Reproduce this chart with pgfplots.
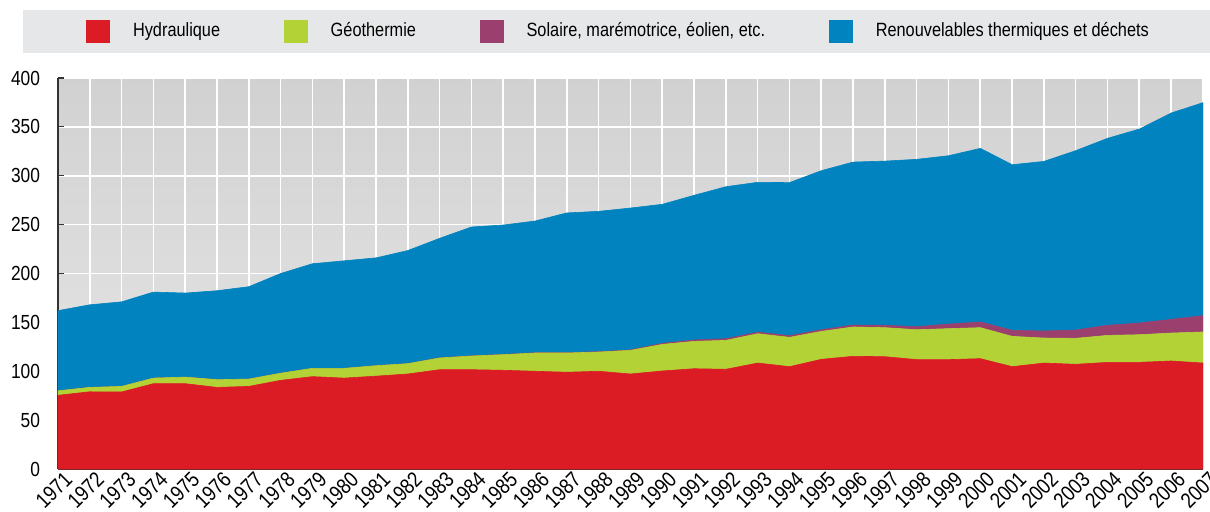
\documentclass[border=0pt]{standalone}
\usepackage{pgfplots}
\pgfplotsset{compat=1.18}
\usepackage{pgfplotstable}
\usepackage{fontspec}
\setmainfont{Liberation Sans}[FakeStretch=0.85]
\definecolor{hydro}{HTML}{DB1C24}
\definecolor{geo}{HTML}{B2D235}
\definecolor{sol}{HTML}{9B3F6F}
\definecolor{ren}{HTML}{0083BE}
\definecolor{leggray}{HTML}{E6E7E8}
\definecolor{axdark}{HTML}{333333}
\pgfplotstableread{
year hydro geo sol ren
1971 75.4 4.6 0 82
1972 79 4.5 0 84.5
1973 78.8 5.7 0 86.5
1974 87.3 5.7 0 88
1975 87.3 6.7 0 86
1976 83.5 7.9 0 91
1977 84.5 7.5 0 94.5
1978 90.7 7.3 0 102
1979 94.5 8.5 0 107
1980 93 10 0 110
1981 95 10.7 0 110.3
1982 97.2 10.6 0 115.7
1983 101.6 12 0.2 122.2
1984 101.6 14 0.2 131.8
1985 101 16 0.2 132.4
1986 100 18.7 0.3 134.7
1987 99 19.7 0.3 143
1988 100 19.7 0.4 143.5
1989 97.2 24.2 0.5 145.1
1990 100.3 27.2 1.1 142.2
1991 102.6 28 1.4 148
1992 102 29.6 1.7 155.5
1993 108.4 30 1.6 153.3
1994 104.7 30 1.7 156.6
1995 112.2 28.6 1.7 162.7
1996 115.3 30 2 166.7
1997 114.9 29.7 2.4 168
1998 111.9 30.6 3.1 171.2
1999 111.9 31.7 4.7 172.2
2000 112.9 31.7 5.8 177.6
2001 104.7 31 6.2 169.4
2002 108.4 25.6 7.2 173.5
2003 107.1 26.6 8.5 183.5
2004 109.1 27.6 10.3 191.3
2005 109.1 28.3 12 198.4
2006 110.5 28.6 14 211.1
2007 108.4 31.8 16.7 217.9
}\datatable
\begin{document}
\begin{tikzpicture}
\useasboundingbox (0,0) rectangle (605pt,255.5pt);
\fill[leggray] (11.5pt,229pt) rectangle (605pt,250.5pt);
\begin{axis}[
  at={(29pt,21pt)}, anchor=south west,
  scale only axis, width=572.5pt, height=195.5pt,
  xmin=1971, xmax=2007, ymin=0, ymax=400,
  stack plots=y,
  axis lines=left,
  axis line style={axdark, line width=1pt, -},
  xtick={1971,...,2007}, ytick={0,50,...,400},
  tick align=inside, tick style={axdark, line width=0.6pt},
  major tick length=3pt,
  grid=major, major grid style={white, line width=0.8pt},
  axis background/.style={shade, top color=black!18, bottom color=black!9},
  /pgf/number format/assume math mode=true,
  x tick label style={/pgf/number format/1000 sep={}, rotate=45, anchor=north east, font=\fontsize{10.8pt}{11pt}\selectfont, inner sep=1pt, xshift=2.5pt, yshift=-1pt},
  y tick label style={font=\fontsize{10.2pt}{11pt}\selectfont},
  yticklabel style={xshift=-5.5pt},
  legend columns=4,
  legend image code/.code={\fill[#1] (0pt,-5.5pt) rectangle (11.5pt,5.5pt);},
  legend style={at={(rel axis cs:0.0245,1.1202)}, anchor=west, draw=none, fill=none,
    inner sep=0pt, font=\fontsize{9.6pt}{10pt}\selectfont,
    /tikz/every even column/.append style={column sep=30pt},
    /tikz/every odd column/.append style={column sep=9.5pt}},
]
\addplot[fill=hydro, draw=hydro, line width=0.3pt] table[x=year,y=hydro]{\datatable} \closedcycle;
\addlegendentry{Hydraulique}
\addplot[fill=geo, draw=geo, line width=0.3pt] table[x=year,y=geo]{\datatable} \closedcycle;
\addlegendentry{Géothermie}
\addplot[fill=sol, draw=sol, line width=0.3pt] table[x=year,y=sol]{\datatable} \closedcycle;
\addlegendentry{Solaire, marémotrice, éolien, etc.}
\addplot[fill=ren, draw=ren, line width=0.3pt] table[x=year,y=ren]{\datatable} \closedcycle;
\addlegendentry{Renouvelables thermiques et déchets}
\end{axis}
\end{tikzpicture}
\end{document}
